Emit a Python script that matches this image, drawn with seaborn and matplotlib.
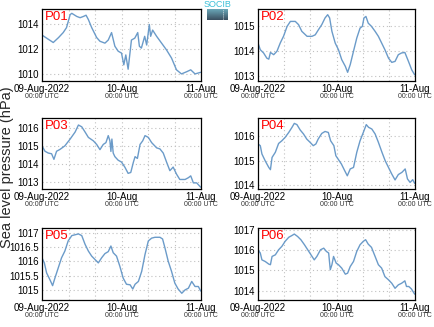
import numpy as np
import pandas as pd
import matplotlib
matplotlib.use("Agg")
import matplotlib.pyplot as plt
import seaborn as sns
from matplotlib.ticker import FuncFormatter, FixedLocator
from matplotlib.colors import LinearSegmentedColormap

sns.set_theme(style="white")
plt.rcParams['font.family'] = ['Liberation Sans', 'DejaVu Sans']

stations = ["P01", "P02", "P03", "P04", "P05", "P06"]

p01_t = [0, 3.4, 5, 6.4, 7.4, 8.5, 9, 10.5, 11.5, 12.5, 13.3, 14, 15, 16.5, 17.5, 19, 20, 21, 22, 23, 24, 24.7, 25.3, 26, 27, 28, 28.9, 29.4, 30, 31, 31.6, 32.4, 32.8, 33.4, 34.6, 36.1, 37.6, 39.1, 40.6, 42.1, 43.7, 44.9, 46.2, 47.9]
p01_v = [1013.1, 1012.5, 1012.9, 1013.3, 1013.7, 1014.75, 1014.85, 1014.6, 1014.5, 1014.6, 1014.7, 1014.35, 1013.7, 1012.9, 1012.6, 1012.45, 1012.7, 1013.3, 1012.2, 1011.8, 1011.65, 1010.7, 1011.5, 1010.35, 1012.7, 1012.85, 1013.3, 1012.2, 1012.05, 1013.0, 1012.3, 1013.95, 1013.0, 1013.5, 1013.0, 1012.45, 1011.9, 1011.25, 1010.3, 1009.97, 1010.15, 1010.3, 1009.97, 1010.1]

p02_t = [0, 0.7, 1.7, 2.7, 3.3, 3.8, 4.8, 5.8, 6.8, 7.8, 8.9, 9.9, 11.4, 12.4, 13.4, 15, 16.5, 17.5, 18.5, 19.5, 20.5, 21.3, 21.9, 22.6, 23.6, 24.6, 25.6, 26.7, 27.4, 28.2, 29.2, 30.2, 31.2, 31.9, 32.4, 33.0, 33.7, 34.7, 35.8, 36.8, 37.8, 38.8, 39.9, 40.9, 41.9, 42.9, 43.9, 44.9, 46, 47, 47.9]
p02_v = [1014.33, 1014.06, 1013.93, 1013.72, 1013.68, 1013.95, 1013.86, 1014.0, 1014.33, 1014.6, 1015.0, 1015.2, 1015.2, 1015.07, 1014.8, 1014.6, 1014.6, 1014.66, 1014.87, 1015.07, 1015.34, 1015.47, 1015.34, 1014.8, 1014.33, 1014.06, 1013.66, 1013.39, 1013.15, 1013.46, 1014.0, 1014.53, 1014.93, 1015.0, 1015.34, 1015.4, 1015.13, 1015.0, 1014.8, 1014.6, 1014.33, 1014.06, 1013.72, 1013.55, 1013.59, 1013.86, 1013.93, 1013.95, 1013.59, 1013.25, 1013.05]

p03_t = [0, 0.9, 1.9, 2.9, 3.6, 4.4, 5.4, 6.9, 8.5, 10, 11, 12, 13, 14, 15.5, 16.5, 17.5, 18.5, 19.3, 20, 20.5, 20.8, 21.1, 21.5, 22, 23, 24, 25, 26, 26.8, 27.6, 28.1, 28.8, 29.6, 30.4, 31.1, 32.1, 33.1, 34.6, 35.6, 36.6, 37.6, 38.6, 39.6, 40.6, 41.6, 43.2, 44.2, 44.9, 45.7, 46.7, 47.9]
p03_v = [1015.0, 1014.7, 1014.6, 1014.56, 1014.25, 1014.7, 1014.8, 1015.0, 1015.38, 1015.77, 1016.16, 1016.06, 1015.77, 1015.47, 1015.28, 1015.08, 1014.79, 1015.08, 1015.18, 1015.57, 1015.28, 1014.69, 1015.38, 1014.6, 1014.4, 1014.2, 1014.1, 1013.82, 1013.47, 1013.52, 1014.1, 1014.4, 1014.3, 1015.08, 1015.28, 1015.57, 1015.47, 1015.18, 1014.89, 1014.83, 1014.6, 1014.1, 1013.62, 1013.82, 1013.43, 1013.13, 1013.13, 1013.23, 1013.33, 1012.94, 1012.94, 1012.7]

p04_t = [0, 0.7, 1.2, 2.2, 3.3, 3.8, 4.3, 5.3, 6.3, 7.3, 8.3, 9.4, 10.4, 11.1, 11.9, 12.9, 13.9, 14.9, 15.9, 16.9, 17.7, 18.4, 19.5, 20.5, 21.5, 22.2, 23.2, 23.8, 24.5, 25.5, 26.5, 27.3, 28.2, 29.2, 30.2, 31.2, 32.2, 33.1, 33.8, 34.8, 35.8, 36.8, 37.9, 38.9, 39.9, 40.9, 41.9, 42.9, 44, 45, 45.7, 46.5, 47.3, 47.9]
p04_v = [1015.69, 1015.62, 1015.28, 1015.0, 1014.73, 1014.64, 1015.14, 1015.35, 1015.71, 1015.82, 1015.96, 1016.16, 1016.37, 1016.53, 1016.48, 1016.26, 1016.1, 1015.89, 1015.76, 1015.62, 1015.69, 1015.89, 1016.12, 1016.2, 1016.16, 1015.82, 1015.62, 1015.21, 1015.07, 1014.87, 1014.6, 1014.39, 1014.67, 1014.73, 1015.35, 1015.82, 1016.16, 1016.48, 1016.37, 1016.3, 1016.1, 1015.76, 1015.35, 1015.0, 1014.73, 1014.46, 1014.22, 1014.44, 1014.53, 1014.67, 1014.26, 1014.12, 1014.23, 1014.08]

p05_t = [0, 0.7, 1.4, 2.4, 3.2, 3.9, 4.9, 5.9, 6.9, 7.9, 9, 10, 11, 12, 13, 14, 15, 16, 17, 18, 19, 20, 20.8, 21.5, 22.5, 23.5, 24.5, 25.5, 26.6, 27.4, 28.1, 29.1, 30.1, 31.1, 32.1, 33.1, 34.1, 35.6, 36.4, 37.1, 38.1, 39.1, 40.1, 41.1, 42.2, 43.2, 44.2, 45.2, 46.2, 47.2, 47.9]
p05_v = [1016.13, 1015.95, 1015.59, 1015.35, 1015.14, 1015.41, 1015.77, 1016.13, 1016.37, 1016.73, 1016.92, 1016.95, 1016.98, 1016.92, 1016.61, 1016.37, 1016.19, 1016.07, 1015.95, 1016.13, 1016.28, 1016.35, 1016.55, 1016.31, 1016.19, 1015.83, 1015.41, 1015.19, 1015.17, 1015.02, 1015.19, 1015.29, 1015.65, 1016.25, 1016.73, 1016.83, 1016.86, 1016.86, 1016.8, 1016.49, 1016.01, 1015.65, 1015.23, 1015.02, 1014.87, 1014.99, 1015.05, 1015.29, 1015.11, 1015.11, 1014.95]

p06_t = [0, 0.7, 1.2, 2.2, 3.3, 3.8, 4.3, 5.3, 6.3, 7.3, 8.3, 9.4, 10.4, 11.1, 12.1, 13.1, 14.2, 15.2, 16.2, 17.2, 18, 19.1, 20.1, 20.9, 21.6, 22.1, 22.6, 23.1, 23.9, 24.6, 25.6, 26.7, 27.4, 28.2, 29.2, 30.2, 31.2, 32.2, 32.9, 33.7, 34.7, 35.8, 36.8, 37.8, 38.8, 39.9, 40.9, 41.9, 42.9, 43.9, 44.9, 45.4, 46.1, 46.9, 47.9]
p06_v = [1016.02, 1015.86, 1015.52, 1015.44, 1015.31, 1015.28, 1015.69, 1015.77, 1016.02, 1016.19, 1016.44, 1016.64, 1016.73, 1016.8, 1016.68, 1016.52, 1016.27, 1016.02, 1015.77, 1015.52, 1015.69, 1016.02, 1016.1, 1015.94, 1015.86, 1015.03, 1015.28, 1015.69, 1015.36, 1015.28, 1015.11, 1014.81, 1014.86, 1015.19, 1015.44, 1015.94, 1016.27, 1016.44, 1016.52, 1016.3, 1016.14, 1015.69, 1015.28, 1015.11, 1014.69, 1014.53, 1014.36, 1014.11, 1014.28, 1014.36, 1014.48, 1014.2, 1014.2, 1014.08, 1013.82]

series_t = [p01_t, p02_t, p03_t, p04_t, p05_t, p06_t]
series_v = [p01_v, p02_v, p03_v, p04_v, p05_v, p06_v]

y_ticks = [[1010, 1012, 1014], [1013, 1014, 1015], [1013, 1014, 1015, 1016],
           [1014, 1015, 1016], [1015, 1015.5, 1016, 1016.5, 1017], [1014, 1015, 1016, 1017]]
y_lims = [(1009.4, 1015.2), (1012.8, 1015.7), (1012.6, 1016.55),
          (1013.85, 1016.75), (1014.63, 1017.19), (1013.53, 1017.1)]

x_major = [0, 24, 48]
x_labels = ["09-Aug-2022", "10-Aug", "11-Aug"]
x_sub = "00:00 UTC"
x_grid = [8, 16, 24, 32, 40]

W, H = 434, 327
fig = plt.figure(figsize=(W / 100, H / 100), dpi=100)

col_left = [42, 258]
col_w = [159, 157]
rows = [(9, 81), (118, 189), (228, 300)]

line_color = "#6b9bc9"

for i, name in enumerate(stations):
    r, c = divmod(i, 2)
    top, bot = rows[r]
    ax = fig.add_axes([col_left[c] / W, 1 - bot / H, col_w[c] / W, (bot - top) / H])
    df = pd.DataFrame({"hours": series_t[i], "pressure": series_v[i]})
    sns.lineplot(data=df, x="hours", y="pressure", ax=ax, color=line_color, lw=1.0)
    ax.set_xlim(0, 48)
    ax.set_ylim(*y_lims[i])
    ax.set_xlabel("")
    ax.set_ylabel("")
    ax.set_xticks(x_major)
    ax.set_xticklabels(x_labels)
    ax.xaxis.set_minor_locator(FixedLocator(x_grid))
    ax.set_yticks(y_ticks[i])
    ax.yaxis.set_major_formatter(FuncFormatter(lambda v, p: f"{v:g}"))
    ax.tick_params(axis="both", which="both", length=0, labelsize=7, pad=2, colors="black")
    ax.grid(False)
    for xg in x_grid:
        ax.axvline(xg, color="#c0c0c0", lw=0.8, ls=(0, (1, 2.5)), zorder=0)
    for yg in y_ticks[i]:
        ax.axhline(yg, color="#c0c0c0", lw=0.8, ls=(0, (1, 2.5)), zorder=0)
    for s in ax.spines.values():
        s.set_color("black")
        s.set_linewidth(0.9)
    for xm in x_major:
        ax.text(xm, -0.215, x_sub, transform=ax.get_xaxis_transform(),
                ha="center", va="center", fontsize=5, color="#333333")
    ax.text(0.02, 0.97, name, transform=ax.transAxes, ha="left", va="top",
            fontsize=9.5, color="red")

fig.text(7 / W, 1 - 167 / H, "Sea level pressure (hPa)", rotation=90, ha="center",
         va="center", fontsize=10.5)

# logo
fig.text(217.5 / W, 1 - 4.5 / H, "SOCIB", ha="center", va="center", fontsize=6.5,
         color="#3cc0d8")
lax = fig.add_axes([207 / W, 1 - 20 / H, 21 / W, 11 / H])
grad = np.linspace(0, 1, 50).reshape(-1, 1)
cmap = LinearSegmentedColormap.from_list("logo", ["#6aa7b8", "#3b4f60"])
lax.imshow(grad, aspect="auto", cmap=cmap, extent=[0, 1, 0, 1])
lax.plot([0.75, 0.75], [0.1, 0.9], color="white", lw=0.6, ls=(0, (1, 1.5)))
lax.set_xlim(0, 1)
lax.set_ylim(0, 1)
lax.set_axis_off()

fig.savefig("out.png", dpi=100)
